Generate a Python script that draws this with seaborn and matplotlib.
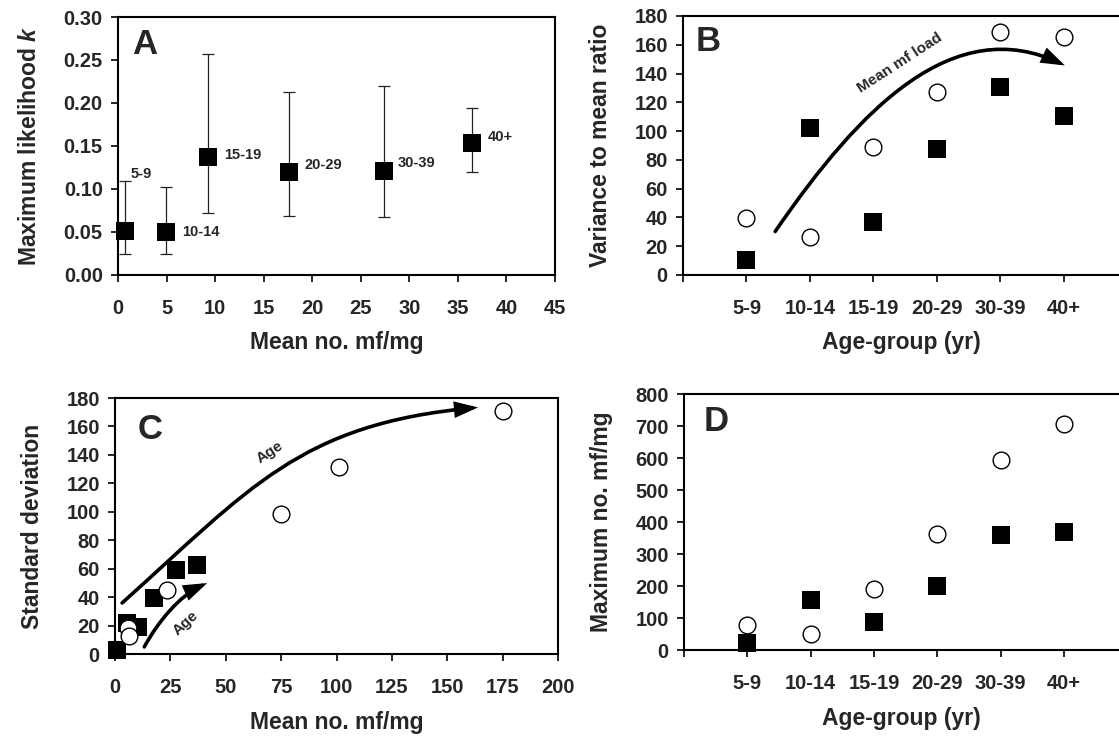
import numpy as np
import pandas as pd
import seaborn as sns
import matplotlib
matplotlib.use("Agg")
import matplotlib.pyplot as plt
from matplotlib.patches import FancyArrowPatch
from matplotlib.path import Path

# ---------------- data ----------------
age_groups = ["5-9", "10-14", "15-19", "20-29", "30-39", "40+"]

# Panel A: maximum likelihood k vs mean mf/mg (with CI)
mean_mf_a = [0.7, 4.9, 9.3, 17.6, 27.4, 36.5]
k_est = [0.051, 0.050, 0.137, 0.120, 0.121, 0.153]
k_low = [0.024, 0.024, 0.072, 0.069, 0.067, 0.120]
k_high = [0.109, 0.102, 0.257, 0.213, 0.220, 0.194]
label_x_a = [1.3, 6.6, 10.9, 19.2, 28.8, 38.1]
label_y_a = [0.117, 0.050, 0.140, 0.128, 0.130, 0.161]

# Panel B: variance to mean ratio
vmr_sq = [10.4, 102.2, 36.5, 87.2, 130.6, 110.8]
vmr_ci = [39.9, 26.5, 88.8, 127.2, 169.2, 165.7]

# Panel C: standard deviation vs mean
mean_sq_c = [1.0, 5.3, 10.3, 17.6, 27.4, 36.9]
sd_sq_c = [2.5, 21.8, 18.7, 39.4, 59.3, 62.8]
mean_ci_c = [5.7, 6.4, 23.4, 74.9, 101.2, 175.1]
sd_ci_c = [18.5, 13.0, 45.2, 98.4, 131.7, 171.1]

# Panel D: maximum mf/mg
max_sq = [22, 155, 88, 200, 358, 368]
max_ci = [77, 51, 191, 364, 595, 707]

# annotation arrows (cubic Bezier control points, data units)
arrow_b_x = [0.452, 1.81, 3.277, 5.017]
arrow_b_y = [30.2, 117.5, 182.0, 145.6]
arrow_c1_x = [3.2, 61.0, 83.5, 163.9]
arrow_c1_y = [35.9, 116.7, 161.7, 173.4]
arrow_c2_x = [13.2, 19.3, 28.9, 41.6]
arrow_c2_y = [5.0, 22.3, 41.0, 49.9]

# ---------------- style ----------------
sns.set_style("ticks")
plt.rcParams['font.family'] = ['Liberation Sans', 'DejaVu Sans']
plt.rcParams['font.weight'] = 'bold'
plt.rcParams['axes.labelweight'] = 'bold'
plt.rcParams['mathtext.fontset'] = 'custom'
plt.rcParams['mathtext.bfit'] = 'Liberation Sans:italic:bold'

TICK_FS = 14.5
LABEL_FS = 16.5
LETTER_FS = 25
NOTE_FS = 11
SQ_S = 160
CI_S = 145
YPAD = 16

fig = plt.figure(figsize=(11.19, 7.36), dpi=100)
axA = fig.add_axes([0.1055, 0.6264, 0.3905, 0.3505])
axB = fig.add_axes([0.6104, 0.6264, 0.3896, 0.3519])
axC = fig.add_axes([0.1028, 0.1114, 0.3959, 0.3478])
axD = fig.add_axes([0.6113, 0.1168, 0.3887, 0.3478])


def style_axes(ax, right=True):
    for s in ax.spines.values():
        s.set_linewidth(1.5)
        s.set_color('black')
    ax.spines['right'].set_visible(right)
    ax.tick_params(axis='both', which='both', direction='out', length=5,
                   width=1.2, color='black', labelsize=TICK_FS)
    ax.tick_params(axis='x', which='both', pad=12)
    ax.tick_params(axis='y', pad=6)
    for lab in ax.get_xticklabels() + ax.get_yticklabels():
        lab.set_fontweight('bold')


def curved_arrow(ax, xs, ys):
    verts = list(zip(xs, ys))
    path = Path(verts, [Path.MOVETO, Path.CURVE4, Path.CURVE4, Path.CURVE4])
    arr = FancyArrowPatch(path=path,
                          arrowstyle="-|>,head_length=1.1,head_width=0.38",
                          mutation_scale=11, lw=2.6, color='black',
                          transform=ax.transData, clip_on=False,
                          joinstyle='miter')
    ax.add_patch(arr)


# ---------------- Panel A ----------------
ka = np.array(k_est)
yerr = [ka - np.array(k_low), np.array(k_high) - ka]
axA.errorbar(mean_mf_a, k_est, yerr=yerr, fmt='none', ecolor='#222222',
             elinewidth=0.9, capsize=4, capthick=0.9, zorder=2)
sns.scatterplot(x=mean_mf_a, y=k_est, ax=axA, marker='s', s=SQ_S,
                color='black', edgecolor='black', linewidth=0, zorder=3,
                clip_on=False, legend=False)
for lx, ly, t in zip(label_x_a, label_y_a, age_groups):
    axA.text(lx, ly, t, fontsize=10.5, fontweight='bold', va='center', ha='left')
axA.set_xlim(0, 45)
axA.set_ylim(0, 0.30)
axA.set_xticks(np.arange(0, 46, 5))
axA.set_yticks(np.arange(0, 0.301, 0.05))
axA.set_yticklabels([f"{v:.2f}" for v in np.arange(0, 0.301, 0.05)])
axA.set_xlabel("Mean no. mf/mg", fontsize=LABEL_FS, fontweight='bold', labelpad=10)
axA.set_ylabel("Maximum likelihood $\\mathbfit{k}$", fontsize=LABEL_FS,
               fontweight='bold', labelpad=YPAD)
axA.text(0.032, 0.895, "A", transform=axA.transAxes, fontsize=LETTER_FS,
         fontweight='bold', va='center', ha='left')
style_axes(axA, right=True)

# ---------------- Panel B ----------------
sns.scatterplot(x=age_groups, y=vmr_sq, ax=axB, marker='s', s=SQ_S,
                color='black', edgecolor='black', linewidth=0, zorder=3,
                clip_on=False, legend=False)
sns.scatterplot(x=age_groups, y=vmr_ci, ax=axB, marker='o', s=CI_S,
                color='white', edgecolor='black', linewidth=1.0, zorder=4,
                clip_on=False, legend=False)
curved_arrow(axB, arrow_b_x, arrow_b_y)
axB.text(2.42, 147, "Mean mf load", fontsize=NOTE_FS, fontweight='bold',
         rotation=33, ha='center', va='center')
axB.set_xlim(-1, 5.87)
axB.set_ylim(0, 180)
axB.set_yticks(np.arange(0, 181, 20))
axB.set_xticks(range(len(age_groups)))
axB.set_xticklabels(age_groups)
axB.set_xticks([-1], minor=True)
axB.set_xlabel("Age-group (yr)", fontsize=LABEL_FS, fontweight='bold', labelpad=10)
axB.set_ylabel("Variance to mean ratio", fontsize=LABEL_FS, fontweight='bold', labelpad=YPAD)
axB.text(0.028, 0.90, "B", transform=axB.transAxes, fontsize=LETTER_FS,
         fontweight='bold', va='center', ha='left')
style_axes(axB, right=False)

# ---------------- Panel C ----------------
sns.scatterplot(x=mean_sq_c, y=sd_sq_c, ax=axC, marker='s', s=SQ_S,
                color='black', edgecolor='black', linewidth=0, zorder=3,
                clip_on=False, legend=False)
sns.scatterplot(x=mean_ci_c, y=sd_ci_c, ax=axC, marker='o', s=CI_S,
                color='white', edgecolor='black', linewidth=1.0, zorder=4,
                clip_on=False, legend=False)
curved_arrow(axC, arrow_c1_x, arrow_c1_y)
curved_arrow(axC, arrow_c2_x, arrow_c2_y)
axC.text(69.9, 141.8, "Age", fontsize=NOTE_FS, fontweight='bold', rotation=33,
         ha='center', va='center')
axC.text(32.0, 21.8, "Age", fontsize=NOTE_FS, fontweight='bold', rotation=42,
         ha='center', va='center')
axC.set_xlim(0, 200)
axC.set_ylim(0, 180)
axC.set_xticks(np.arange(0, 201, 25))
axC.set_yticks(np.arange(0, 181, 20))
axC.set_xlabel("Mean no. mf/mg", fontsize=LABEL_FS, fontweight='bold', labelpad=10)
axC.set_ylabel("Standard deviation", fontsize=LABEL_FS, fontweight='bold', labelpad=YPAD)
axC.text(0.05, 0.879, "C", transform=axC.transAxes, fontsize=LETTER_FS,
         fontweight='bold', va='center', ha='left')
style_axes(axC, right=True)

# ---------------- Panel D ----------------
sns.scatterplot(x=age_groups, y=max_sq, ax=axD, marker='s', s=SQ_S,
                color='black', edgecolor='black', linewidth=0, zorder=3,
                clip_on=False, legend=False)
sns.scatterplot(x=age_groups, y=max_ci, ax=axD, marker='o', s=CI_S,
                color='white', edgecolor='black', linewidth=1.0, zorder=4,
                clip_on=False, legend=False)
axD.set_xlim(-1, 5.87)
axD.set_ylim(0, 800)
axD.set_yticks(np.arange(0, 801, 100))
axD.set_xticks(range(len(age_groups)))
axD.set_xticklabels(age_groups)
axD.set_xticks([-1], minor=True)
axD.set_xlabel("Age-group (yr)", fontsize=LABEL_FS, fontweight='bold', labelpad=10)
axD.set_ylabel("Maximum no. mf/mg", fontsize=LABEL_FS, fontweight='bold', labelpad=YPAD)
axD.text(0.044, 0.892, "D", transform=axD.transAxes, fontsize=LETTER_FS,
         fontweight='bold', va='center', ha='left')
style_axes(axD, right=False)

fig.savefig("out.png", dpi=100)
